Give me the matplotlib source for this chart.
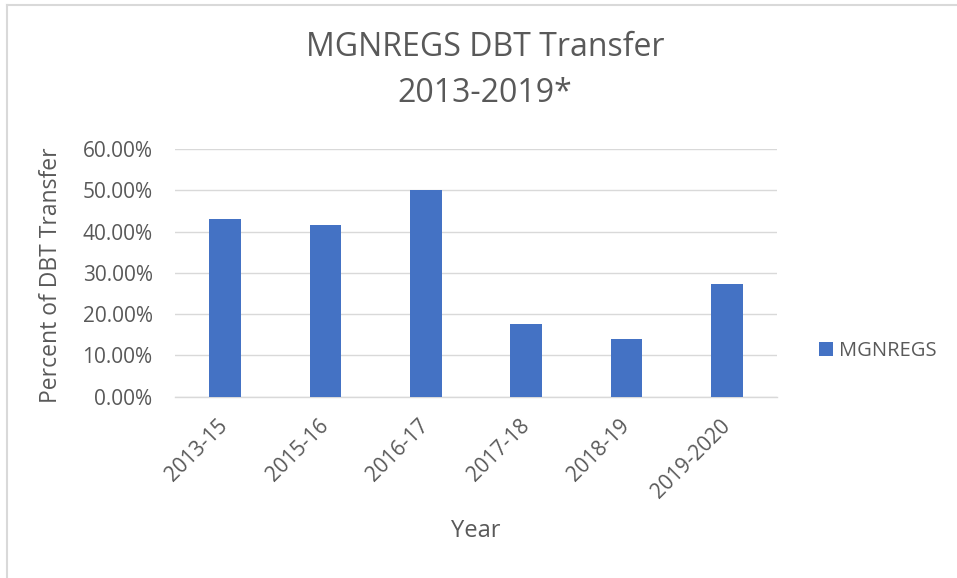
import matplotlib.pyplot as plt
from matplotlib.lines import Line2D
from matplotlib.ticker import FuncFormatter

years = ["2013-15", "2015-16", "2016-17", "2017-18", "2018-19", "2019-2020"]
dbt_share = [0.431, 0.416, 0.500, 0.176, 0.139, 0.273]
y_ticks = [0.0, 0.1, 0.2, 0.3, 0.4, 0.5, 0.6]

BAR_COLOR = "#4472C4"
TEXT_COLOR = "#595959"
GRID_COLOR = "#D9D9D9"

plt.rcParams["font.family"] = ["Open Sans", "DejaVu Sans"]

fig = plt.figure(figsize=(9.57, 5.78), dpi=100)
ax = fig.add_axes([174.8 / 957, 1 - 396.7 / 578, 602.4 / 957, 247.7 / 578])

x = range(len(years))
ax.bar(x, dbt_share, width=0.316, color=BAR_COLOR, label="MGNREGS", zorder=3)

ax.set_xlim(-0.5, len(years) - 0.5)
ax.set_ylim(0, 0.6)
ax.set_yticks(y_ticks)
ax.yaxis.set_major_formatter(FuncFormatter(lambda v, _: f"{v * 100:.2f}%"))
ax.grid(axis="y", color=GRID_COLOR, linewidth=1.0, zorder=0)

for side in ["top", "right", "left"]:
    ax.spines[side].set_visible(False)
ax.spines["bottom"].set_color(GRID_COLOR)
ax.spines["bottom"].set_linewidth(1.0)

ax.set_xticks(list(x))
ax.set_xticklabels(years, rotation=45, ha="right", va="center", rotation_mode="anchor")
ax.tick_params(axis="x", length=0, pad=19, labelsize=15, labelcolor=TEXT_COLOR)
ax.tick_params(axis="y", length=0, pad=16, labelsize=15, labelcolor=TEXT_COLOR)

ax.set_xlabel("Year", fontsize=17, color=TEXT_COLOR, va="center")
ax.xaxis.set_label_coords(0.5, -(531 - 396.7) / 247.7)
ax.set_ylabel("Percent of DBT Transfer", fontsize=16.5, color=TEXT_COLOR, va="center")
ax.yaxis.set_label_coords(-(174.8 - 51) / 602.4, 0.49)

fig.text(485 / 957, 1 - 48 / 578, "MGNREGS DBT Transfer", ha="center", va="center",
         fontsize=23, color=TEXT_COLOR)
fig.text(485 / 957, 1 - 94 / 578, "2013-2019*", ha="center", va="center",
         fontsize=23, color=TEXT_COLOR)

fig.legend(loc="center left", bbox_to_anchor=(819 / 957, 1 - 351 / 578),
           bbox_transform=fig.transFigure, frameon=False, fontsize=14.5,
           labelcolor=TEXT_COLOR, handlelength=0.7, handleheight=0.7,
           handletextpad=0.3, borderpad=0, borderaxespad=0)

# chart-area border, only top and left edges show in the crop
fig.add_artist(Line2D([7 / 957, 7 / 957], [0, 1 - 5 / 578], color=GRID_COLOR,
                      linewidth=1.5, transform=fig.transFigure))
fig.add_artist(Line2D([7 / 957, 1], [1 - 5 / 578, 1 - 5 / 578], color=GRID_COLOR,
                      linewidth=1.5, transform=fig.transFigure))

fig.savefig("out.png", dpi=100)
